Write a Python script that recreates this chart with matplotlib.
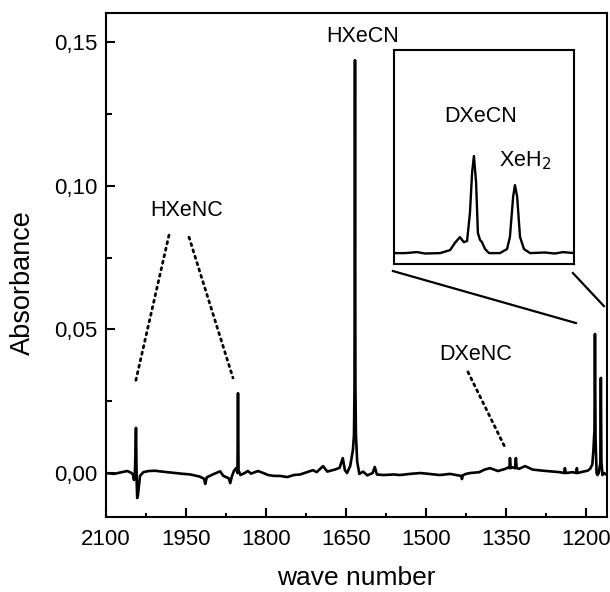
import matplotlib
matplotlib.use("Agg")
import matplotlib.pyplot as plt
from matplotlib.ticker import MultipleLocator, FuncFormatter

plt.rcParams["font.family"] = ["Liberation Sans", "DejaVu Sans"]

# main spectrum, traced point by point: (wave number, absorbance)
spectrum = [
    (2100, 0.0), (2085, -0.0003), (2073, 0.0002), (2060, 0.0007), (2052, 0.0),
    (2049.4, -0.0007), (2047.5, -0.0024), (2045.6, 0.001), (2043.8, 0.0157),
    (2042.5, -0.003), (2041.5, -0.0087), (2040, -0.0075), (2038.1, -0.0042),
    (2036.3, -0.001), (2030, 0.0003), (2020, 0.0007), (2008, 0.0008), (1995, 0.0005),
    (1980, 0.0002), (1960, -0.0002), (1942, -0.0005), (1925, -0.0012), (1916, -0.002),
    (1914, -0.0038), (1911, -0.0015), (1900, -0.0005), (1890, 0.0003), (1886, 0.0006),
    (1880, -0.001), (1870, -0.0018), (1867, -0.0035), (1864, -0.0012), (1860, 0.0008),
    (1856, 0.0017), (1853.5, 0.0), (1852.5, 0.0278), (1851.5, 0.001), (1848, -0.0007),
    (1840, 0.0), (1834, 0.0007), (1828, -0.0002), (1815, 0.0007), (1805, 0.0),
    (1796, -0.0007), (1785, -0.001), (1774, -0.001), (1760, -0.0014), (1748, -0.0007),
    (1736, -0.0005), (1725, 0.0002), (1712, 0.0010), (1705, 0.0003), (1693, 0.0024),
    (1685, 0.0005), (1671, 0.0012), (1662, 0.0018), (1656, 0.0052), (1652, 0.001),
    (1648, 0.0), (1642, 0.0025), (1637, 0.008), (1635, 0.0132), (1634, 0.03),
    (1633.1, 0.1437), (1632.3, 0.03), (1631.3, 0.0132), (1629, 0.004), (1625, -0.0003),
    (1618, 0.0005), (1610, -0.0008), (1600, 0.0), (1596, 0.0021), (1592, -0.0005),
    (1580, -0.0007), (1560, -0.0005), (1549, -0.0007), (1530, -0.0003), (1510, 0.0),
    (1490, -0.0004), (1474, -0.0007), (1455, -0.0003), (1440, -0.0008), (1434, -0.001),
    (1432.5, -0.0021), (1431, -0.0008), (1425, -0.0003), (1417, 0.0), (1400, 0.0003),
    (1390, 0.0012), (1380, 0.0017), (1365, 0.0007), (1352, 0.0014), (1345, 0.002),
    (1343.5, 0.0017), (1342.5, 0.0052), (1341, 0.0017), (1338, 0.002), (1333, 0.0017),
    (1331.3, 0.0052), (1330, 0.0017), (1325, 0.0015), (1314, 0.0024), (1300, 0.0012),
    (1280, 0.0008), (1262, 0.0005), (1249, 0.0003), (1241, 0.0), (1239.4, 0.0017),
    (1238, 0.0), (1225, 0.0003), (1218, 0.0), (1217, 0.0017), (1216, 0.0),
    (1205, 0.0005), (1197, 0.0008), (1192, 0.0015), (1188, 0.003), (1186, 0.008),
    (1184, 0.015), (1183.1, 0.0484), (1182, 0.012), (1180, 0.0), (1178.5, -0.0007),
    (1176, 0.0), (1173, 0.0035), (1172, 0.0331), (1171, 0.004), (1169, -0.0007),
    (1166, 0.0), (1160.6, -0.0007),
]
wn = [p[0] for p in spectrum]
absorb = [p[1] for p in spectrum]

# inset spectrum (zoom on the DXeCN / XeH2 region)
inset_wn = [1200, 1196.9, 1193.6, 1191.4, 1187.2, 1184.4, 1183.1, 1181.7, 1180.6,
            1179.7, 1178.9, 1178.3, 1177.8, 1177.2, 1176.7, 1176.1, 1175.6, 1174.7,
            1173.6, 1170.6, 1168.6, 1167.8, 1166.9, 1166.4, 1165.8, 1165.0, 1163.9,
            1162.2, 1158.1, 1155.3, 1153.1, 1150]
inset_abs = [0.0, 0.0, 0.0005, -0.0002, 0.0, 0.0015, 0.005, 0.0079, 0.0054, 0.006,
             0.02, 0.04, 0.048, 0.035, 0.01, 0.0065, 0.0055, 0.002, 0.0, 0.0, 0.002,
             0.008, 0.028, 0.0336, 0.028, 0.008, 0.002, 0.0, 0.0003, -0.0002, 0.0005, 0.0]

x_ticks = [2100, 1950, 1800, 1650, 1500, 1350, 1200]
y_ticks = [0.00, 0.05, 0.10, 0.15]

fig = plt.figure(figsize=(6.1, 5.92), dpi=100)
ax = fig.add_axes([0.1738, 0.1267, 0.8212, 0.8513])
ax.plot(wn, absorb, color="black", lw=1.9, solid_joinstyle="round")
ax.set_xlim(2100, 1160.6)
ax.set_ylim(-0.0153, 0.1601)
ax.set_xticks(x_ticks)
ax.set_yticks(y_ticks)
ax.xaxis.set_minor_locator(MultipleLocator(75))
ax.yaxis.set_minor_locator(MultipleLocator(0.025))
ax.yaxis.set_major_formatter(FuncFormatter(lambda v, p: f"{v:.2f}".replace(".", ",")))
ax.tick_params(which="both", direction="in", top=False, right=False, width=1.5,
               labelsize=16)
ax.tick_params(which="major", length=6.5)
ax.tick_params(axis="x", which="minor", length=3)
ax.tick_params(axis="y", which="minor", length=4.5)
ax.tick_params(axis="x", pad=9)
ax.tick_params(axis="y", pad=6)
for s in ax.spines.values():
    s.set_linewidth(1.5)
ax.set_xlabel("wave number", fontsize=19)
ax.set_ylabel("Absorbance", fontsize=19.5)
ax.xaxis.set_label_coords(0.5, -0.134)
ax.xaxis.label.set_va("baseline")
ax.yaxis.set_label_coords(-0.166, 0.466)
ax.yaxis.label.set_va("center")

# labels and dotted leader lines
ax.text(1618, 0.1518, "HXeCN", fontsize=15.5, ha="center", va="center")
ax.text(1948, 0.0915, "HXeNC", fontsize=15.5, ha="center", va="center")
ax.text(1406, 0.0411, "DXeNC", fontsize=15.5, ha="center", va="center")
dot = dict(color="black", lw=2, ls=(0, (0.8, 1.6)), dash_capstyle="round")
ax.plot([1981.9, 2045.6], [0.0828, 0.031], **dot)
ax.plot([1944.4, 1861.9], [0.0821, 0.0331], **dot)
ax.plot([1421.3, 1351.9], [0.0352, 0.009], **dot)

# solid lines pointing from the inset to the zoomed region
ax.plot([1561.9, 1218.8], [0.0703, 0.0522], color="black", lw=1.6)
ax.plot([1224.4, 1166.3], [0.0696, 0.0581], color="black", lw=1.6)

ins = fig.add_axes([0.6459, 0.554, 0.2951, 0.3615])
ins.plot(inset_wn, inset_abs, color="black", lw=1.7)
ins.set_xlim(1200, 1150)
ins.set_ylim(-0.0054, 0.1004)
ins.set_xticks([])
ins.set_yticks([])
for s in ins.spines.values():
    s.set_linewidth(1.5)
ins.text(1176, 0.0675, "DXeCN", fontsize=15.5, ha="center", va="center")
ins.text(1163.5, 0.0455, "XeH$_2$", fontsize=15.5, ha="center", va="center")

fig.savefig("out.png", dpi=100)
